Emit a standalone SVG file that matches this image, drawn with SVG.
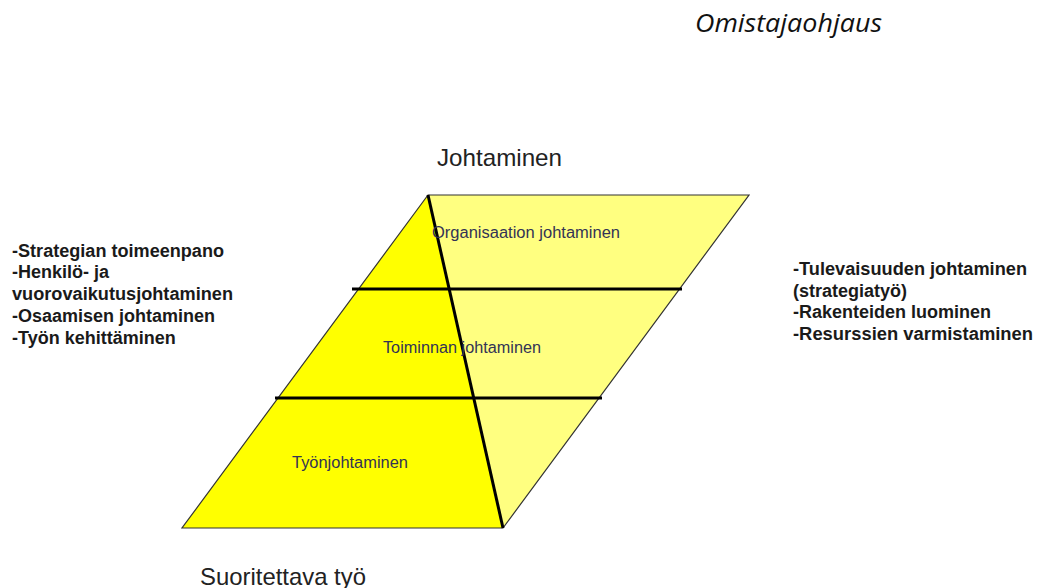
<svg xmlns="http://www.w3.org/2000/svg" width="1037" height="588" viewBox="0 0 1037 588">
<style>
.lbl{font-family:"Liberation Sans",Arial,sans-serif;font-size:24px;fill:#222}
.lst{font-family:"Liberation Sans",Arial,sans-serif;font-size:18px;font-weight:bold;fill:#1a1a1a}
.in{font-family:"Liberation Sans",Arial,sans-serif;font-size:16px;fill:#333355}
.edge{stroke:#333;stroke-width:1.2;fill:none}
.thick{stroke:#000;stroke-width:3;fill:none}
</style>
<rect width="1037" height="588" fill="#fff"/>
<g id="title"><text x="695" y="32" font-family="'Open Sans','Liberation Sans',sans-serif" font-style="italic" font-size="26" fill="#111" textLength="187" lengthAdjust="spacingAndGlyphs">Omistajaohjaus</text></g>
<g id="top-label"><text class="lbl" x="437" y="166" textLength="125" lengthAdjust="spacingAndGlyphs">Johtaminen</text></g>
<g id="bottom-label"><text class="lbl" x="200" y="585" textLength="166" lengthAdjust="spacingAndGlyphs">Suoritettava työ</text></g>
<g id="shape">
<polygon points="428,195 749,195 503,528" fill="#FFFF80"/>
<polygon points="428,195 182,528 503,528" fill="#FFFF00"/>
<polygon class="edge" points="428,195 749,195 503,528 182,528"/>
</g>
<g id="connectors">
<line class="thick" x1="428" y1="195" x2="503" y2="528"/>
<line class="thick" x1="352" y1="289" x2="682" y2="289"/>
<line class="thick" x1="275" y1="398" x2="602" y2="398"/>
</g>
<g id="level-organisaatio"><text class="in" x="432" y="238" textLength="188" lengthAdjust="spacingAndGlyphs">Organisaation johtaminen</text></g>
<g id="level-toiminta"><text class="in" x="383" y="353" textLength="158" lengthAdjust="spacingAndGlyphs">Toiminnan johtaminen</text></g>
<g id="level-tyo"><text class="in" x="292" y="468" textLength="116" lengthAdjust="spacingAndGlyphs">Työnjohtaminen</text></g>
<g id="left-list">
<text class="lst" x="12" y="257" textLength="212" lengthAdjust="spacingAndGlyphs">-Strategian toimeenpano</text>
<text class="lst" x="12" y="278">-Henkilö- ja</text>
<text class="lst" x="12" y="300" textLength="221" lengthAdjust="spacingAndGlyphs">vuorovaikutusjohtaminen</text>
<text class="lst" x="12" y="322">-Osaamisen johtaminen</text>
<text class="lst" x="12" y="344">-Työn kehittäminen</text>
</g>
<g id="right-list">
<text class="lst" x="793" y="275" textLength="234" lengthAdjust="spacingAndGlyphs">-Tulevaisuuden johtaminen</text>
<text class="lst" x="793" y="297">(strategiatyö)</text>
<text class="lst" x="793" y="318">-Rakenteiden luominen</text>
<text class="lst" x="793" y="340" textLength="240" lengthAdjust="spacingAndGlyphs">-Resurssien varmistaminen</text>
</g>
</svg>
